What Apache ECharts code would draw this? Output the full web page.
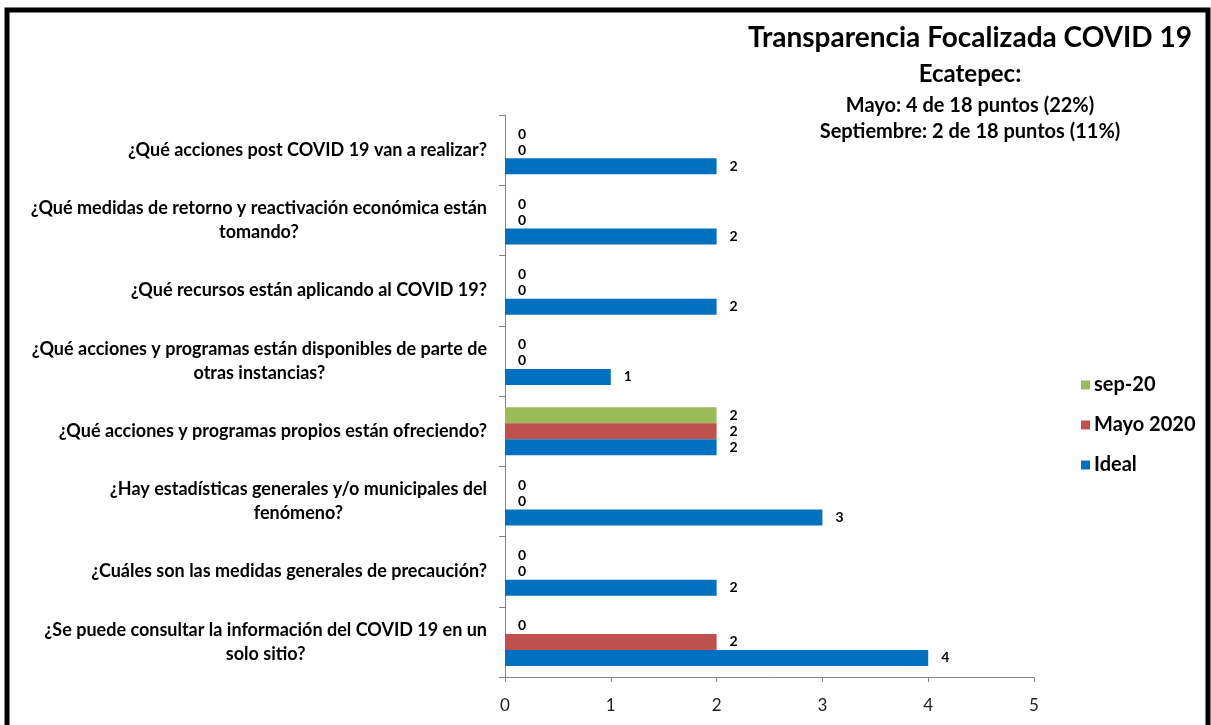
<!DOCTYPE html>
<html>
<head>
<meta charset="utf-8">
<script src="https://cdn.jsdelivr.net/npm/echarts@6/dist/echarts.min.js"></script>
<style>
html,body{margin:0;padding:0;background:#fff;}
#chart{width:1211px;height:725px;}
</style>
</head>
<body>
<div id="chart"></div>
<script>
// Categories listed bottom to top
var categories = [
  "¿Se puede consultar la información del COVID 19 en un\nsolo sitio?",
  "¿Cuáles son las medidas generales de precaución?",
  "¿Hay estadísticas generales y/o municipales del\nfenómeno?",
  "¿Qué acciones y programas propios están ofreciendo?",
  "¿Qué acciones y programas están disponibles de parte de\notras instancias?",
  "¿Qué recursos están aplicando al COVID 19?",
  "¿Qué medidas de retorno y reactivación económica están\ntomando?",
  "¿Qué acciones post COVID 19 van a realizar?"
];
var idealValues = [4, 2, 3, 2, 1, 2, 2, 2];
var mayoValues = [2, 0, 0, 2, 0, 0, 0, 0];
var sepValues = [0, 0, 0, 2, 0, 0, 0, 0];
var xTicks = [0, 1, 2, 3, 4, 5];
var titleLines = [
  "Transparencia Focalizada COVID 19",
  "Ecatepec:",
  "Mayo: 4 de 18 puntos (22%)",
  "Septiembre: 2 de 18 puntos (11%)"
];

var FONT = 'Lato';
var chart = echarts.init(document.getElementById('chart'), null, {renderer: 'canvas'});

function labelCfg() {
  return {
    show: true,
    position: 'right',
    distance: 13,
    color: '#000',
    fontFamily: FONT,
    fontWeight: 'bold',
    fontSize: 14
  };
}

var option = {
  animation: false,
  backgroundColor: '#fff',
  textStyle: {fontFamily: FONT},
  title: [
    {text: titleLines[0], left: 965, top: 19, textAlign: 'center',
     textStyle: {fontFamily: FONT, fontWeight: 'bold', fontSize: 28, color: '#000'}},
    {text: titleLines[1], left: 965, top: 57, textAlign: 'center',
     textStyle: {fontFamily: FONT, fontWeight: 'bold', fontSize: 24, color: '#000'}},
    {text: titleLines[2], left: 965, top: 91, textAlign: 'center',
     textStyle: {fontFamily: FONT, fontWeight: 'bold', fontSize: 20, color: '#000'}},
    {text: titleLines[3], left: 965, top: 117, textAlign: 'center',
     textStyle: {fontFamily: FONT, fontWeight: 'bold', fontSize: 20, color: '#000'}}
  ],
  legend: {
    orient: 'vertical',
    left: 1076,
    top: 370,
    itemWidth: 9,
    itemHeight: 9,
    itemGap: 20,
    icon: 'rect',
    data: ['sep-20', 'Mayo 2020', 'Ideal'],
    textStyle: {fontFamily: FONT, fontWeight: 'bold', fontSize: 20, lineHeight: 20, color: '#000', padding: [0,0,0,-1]}
  },
  grid: {left: 505, right: 177, top: 115, bottom: 48, containLabel: false},
  xAxis: {
    type: 'value',
    min: 0, max: 5, interval: 1,
    axisLine: {show: true, lineStyle: {color: '#868686', width: 1}},
    axisTick: {show: true, length: 5, lineStyle: {color: '#868686'}},
    splitLine: {show: false},
    axisLabel: {color: '#222', fontFamily: FONT, fontSize: 17, margin: 20,
      formatter: function (v) { return xTicks.indexOf(v) >= 0 ? String(v) : ''; }}
  },
  yAxis: {
    type: 'category',
    data: categories,
    axisLine: {show: true, lineStyle: {color: '#868686', width: 1}},
    axisTick: {show: true, length: 6, lineStyle: {color: '#868686'}},
    axisLabel: {
      margin: 18,
      color: '#000',
      fontFamily: FONT,
      fontWeight: 'bold',
      fontSize: 18,
      lineHeight: 24,
      formatter: function (v) {
        return v.split('\n').map(function (l) { return '{c|' + l + '}'; }).join('\n');
      },
      rich: {c: {align: 'center', fontFamily: FONT, fontWeight: 'bold', fontSize: 18, lineHeight: 24, color: '#000'}}
    }
  },
  series: [
    {name: 'sep-20', type: 'bar', data: sepValues, barWidth: 16, barGap: '0%',
     itemStyle: {color: '#9BBB59'}, label: labelCfg()},
    {name: 'Mayo 2020', type: 'bar', data: mayoValues, barWidth: 16, barGap: '0%',
     itemStyle: {color: '#C0504D'}, label: labelCfg()},
    {name: 'Ideal', type: 'bar', data: idealValues, barWidth: 16, barGap: '0%',
     itemStyle: {color: '#0070C0'}, label: labelCfg()}
  ],
  graphic: [
    {type: 'rect', shape: {x: 7, y: 10, width: 1201, height: 800},
     style: {fill: 'none', stroke: '#000', lineWidth: 5}, z: 100}
  ]
};
chart.setOption(option);
</script>
</body>
</html>
